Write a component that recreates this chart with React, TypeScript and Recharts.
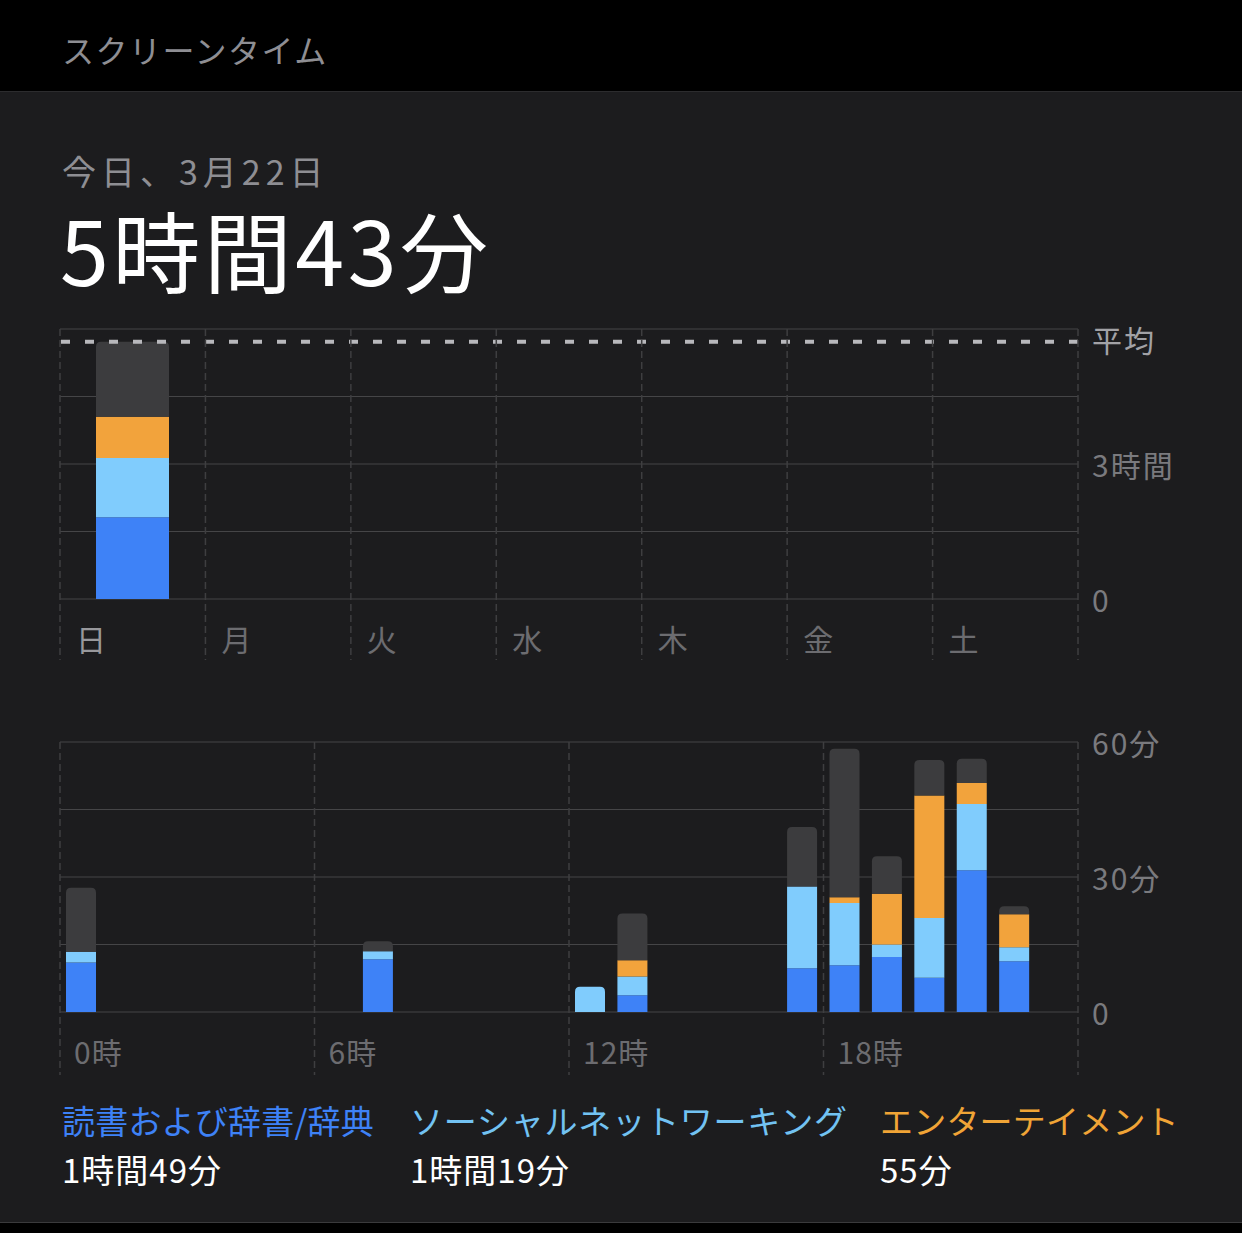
import React from "react";
import { Bar, BarChart, CartesianGrid, ReferenceLine, XAxis, YAxis } from "recharts";

// weekly chart (minutes per day)
const days = ["日", "月", "火", "水", "木", "金", "土"];
const dayReading = [109, 0, 0, 0, 0, 0, 0];
const daySocial = [79, 0, 0, 0, 0, 0, 0];
const dayEntertainment = [55, 0, 0, 0, 0, 0, 0];
const dayOther = [100, 0, 0, 0, 0, 0, 0];
const dayAverage = 343;
const dayTicks = [0, 90, 180, 270, 360];
const dayTickLabels = ["0", "", "3時間", "", ""];

// hourly chart (minutes per hour)
const hours = Array.from({ length: 24 }, (_, i) => String(i));
const hourReading = [11, 0, 0, 0, 0, 0, 0, 11.7, 0, 0, 0, 0, 0, 3.7, 0, 0, 0, 9.7, 10.4, 12.2, 7.6, 31.5, 11.3, 0];
const hourSocial = [2.4, 0, 0, 0, 0, 0, 0, 1.8, 0, 0, 0, 0, 5.6, 4.2, 0, 0, 0, 18.2, 13.8, 2.8, 13.3, 14.7, 3.1, 0];
const hourEntertainment = [0, 0, 0, 0, 0, 0, 0, 0, 0, 0, 0, 0, 0, 3.6, 0, 0, 0, 0, 1.3, 11.3, 27.2, 4.7, 7.3, 0];
const hourOther = [14.2, 0, 0, 0, 0, 0, 0, 2.2, 0, 0, 0, 0, 0, 10.4, 0, 0, 0, 13.2, 33, 8.3, 7.9, 5.4, 1.8, 0];
const hourTicks = [0, 15, 30, 45, 60];
const hourTickLabels = ["0", "", "30分", "", "60分"];

const legendNames = ["読書および辞書/辞典", "ソーシャルネットワーキング", "エンターテイメント"];
const legendTotals = ["1時間49分", "1時間19分", "55分"];

const COLORS = {
  reading: "#3e82f7",
  social: "#80ccfd",
  entertainment: "#f2a33c",
  other: "#3c3c3e",
};
const legendColors = ["#3e82f7", "#72c2f2", "#f0a436"];
const ORDER = ["reading", "social", "entertainment", "other"];

const FONT = '"Noto Sans CJK JP", "Noto Sans", sans-serif';
const BG = "#1c1c1e";
const GRID = "#454547";
const DASH = "#3e3e40";
const PLOT_W = 1018;
const PLOT_H = 270;

const dayData = days.map((d, i) => ({
  day: d,
  reading: dayReading[i],
  social: daySocial[i],
  entertainment: dayEntertainment[i],
  other: dayOther[i],
}));

const hourData = hours.map((h, i) => ({
  hour: h,
  reading: hourReading[i],
  social: hourSocial[i],
  entertainment: hourEntertainment[i],
  other: hourOther[i],
}));

// stacked segment, top corners rounded only on the highest non-empty segment
function segment(key: string) {
  return (p: any) => {
    const { x, y, width, height, payload } = p;
    if (!height || height <= 0) return <g />;
    const idx = ORDER.indexOf(key);
    const isTop = ORDER.slice(idx + 1).every((k) => !payload[k]);
    const r = isTop ? Math.min(5, height) : 0;
    const d = `M${x},${y + height} L${x},${y + r} Q${x},${y} ${x + r},${y} L${x + width - r},${y} Q${x + width},${y} ${x + width},${y + r} L${x + width},${y + height} Z`;
    return <path d={d} fill={COLORS[key as keyof typeof COLORS]} />;
  };
}

function DayTick({ x, y, payload, index }: any) {
  const band = PLOT_W / days.length;
  const left = x - band / 2;
  return (
    <g>
      <line x1={left} x2={left} y1={y - PLOT_H} y2={y + 61} stroke={DASH} strokeWidth={1.5} strokeDasharray="7 4" />
      {index === days.length - 1 && (
        <line x1={left + band} x2={left + band} y1={y - PLOT_H} y2={y + 61} stroke={DASH} strokeWidth={1.5} strokeDasharray="7 4" />
      )}
      <text x={left + 16} y={y + 39} dominantBaseline="central" fontSize={30} fontFamily={FONT} fill={index === 0 ? "#98989c" : "#6c6c70"}>
        {payload.value}
      </text>
    </g>
  );
}

function HourTick({ x, y, payload, index }: any) {
  const band = PLOT_W / hours.length;
  const left = x - band / 2;
  const mark = index % 6 === 0;
  return (
    <g>
      {mark && (
        <line x1={left} x2={left} y1={y - PLOT_H} y2={y + 63} stroke={DASH} strokeWidth={1.5} strokeDasharray="7 4" />
      )}
      {index === hours.length - 1 && (
        <line x1={left + band} x2={left + band} y1={y - PLOT_H} y2={y + 63} stroke={DASH} strokeWidth={1.5} strokeDasharray="7 4" />
      )}
      {mark && (
        <text x={left + 14} y={y + 39} dominantBaseline="central" fontSize={30} fontFamily={FONT} fill="#6c6c70" letterSpacing={1}>
          {payload.value}時
        </text>
      )}
    </g>
  );
}

function makeValueTick(ticks: number[], labels: string[]) {
  return ({ x, y, payload }: any) => {
    const label = labels[ticks.indexOf(payload.value)];
    if (!label) return <g />;
    return (
      <text x={x} y={y} dominantBaseline="central" fontSize={30} fontFamily={FONT} fill="#7a7a7e" letterSpacing={2}>
        {label}
      </text>
    );
  };
}

export default function App() {
  return (
    <div style={{ position: "absolute", left: 0, top: 0, width: 1242, height: 1233, background: "#000", fontFamily: FONT, overflow: "hidden" }}>
      <div style={{ position: "absolute", left: 0, top: 91, width: 1242, height: 1, background: "#2c2c2e" }} />
      <div style={{ position: "absolute", left: 0, top: 92, width: 1242, height: 1130, background: BG }} />
      <div style={{ position: "absolute", left: 0, top: 1222, width: 1242, height: 1, background: "#3a3a3c" }} />

      <div style={{ position: "absolute", left: 62, top: 33, fontSize: 32, lineHeight: 1, color: "#8e8e93", letterSpacing: 1.5 }}>スクリーンタイム</div>
      <div style={{ position: "absolute", left: 62, top: 154, fontSize: 34, lineHeight: 1, color: "#8e8e93", letterSpacing: 5 }}>今日、3月22日</div>
      <div style={{ position: "absolute", left: 60, top: 204, fontSize: 88, lineHeight: 1, color: "#ffffff", letterSpacing: 3.5 }}>5時間43分</div>

      <div style={{ position: "absolute", left: 0, top: 300 }}>
        <BarChart width={1242} height={380} data={dayData} margin={{ top: 29, right: 0, bottom: 11, left: 60 }}>
          <CartesianGrid vertical={false} stroke={GRID} strokeWidth={1} />
          <XAxis dataKey="day" axisLine={false} tickLine={false} tickSize={0} tickMargin={0} height={70} interval={0} tick={<DayTick />} />
          <YAxis
            orientation="right"
            width={164}
            domain={[0, 360]}
            ticks={dayTicks}
            axisLine={false}
            tickLine={false}
            tickSize={0}
            tickMargin={14}
            tick={makeValueTick(dayTicks, dayTickLabels)}
          />
          {ORDER.map((k) => (
            <Bar key={k} dataKey={k} stackId="a" barSize={73} fill={COLORS[k as keyof typeof COLORS]} shape={segment(k)} isAnimationActive={false} />
          ))}
          <ReferenceLine
            y={dayAverage}
            stroke="#b8b8bc"
            strokeWidth={4}
            strokeDasharray="9 15"
            label={{ value: "平均", position: "right", offset: 14, fill: "#a2a2a6", fontSize: 30, fontFamily: FONT, letterSpacing: 2 }}
          />
        </BarChart>
      </div>

      <div style={{ position: "absolute", left: 0, top: 700 }}>
        <BarChart width={1242} height={390} data={hourData} margin={{ top: 42, right: 0, bottom: 10, left: 60 }}>
          <CartesianGrid vertical={false} stroke={GRID} strokeWidth={1} />
          <XAxis dataKey="hour" axisLine={false} tickLine={false} tickSize={0} tickMargin={0} height={68} interval={0} tick={<HourTick />} />
          <YAxis
            orientation="right"
            width={164}
            domain={[0, 60]}
            ticks={hourTicks}
            axisLine={false}
            tickLine={false}
            tickSize={0}
            tickMargin={14}
            tick={makeValueTick(hourTicks, hourTickLabels)}
          />
          {ORDER.map((k) => (
            <Bar key={k} dataKey={k} stackId="a" barSize={30} fill={COLORS[k as keyof typeof COLORS]} shape={segment(k)} isAnimationActive={false} />
          ))}
        </BarChart>
      </div>

      {legendNames.map((name, i) => (
        <div key={name} style={{ position: "absolute", left: [62, 410, 880][i], top: 1104 }}>
          <div style={{ fontSize: 33, lineHeight: 1, color: legendColors[i], whiteSpace: "nowrap", letterSpacing: i === 1 ? 0.8 : 0.2 }}>{name}</div>
          <div style={{ fontSize: 33, lineHeight: 1, color: "#ffffff", marginTop: 16, whiteSpace: "nowrap", letterSpacing: 1 }}>{legendTotals[i]}</div>
        </div>
      ))}
    </div>
  );
}
